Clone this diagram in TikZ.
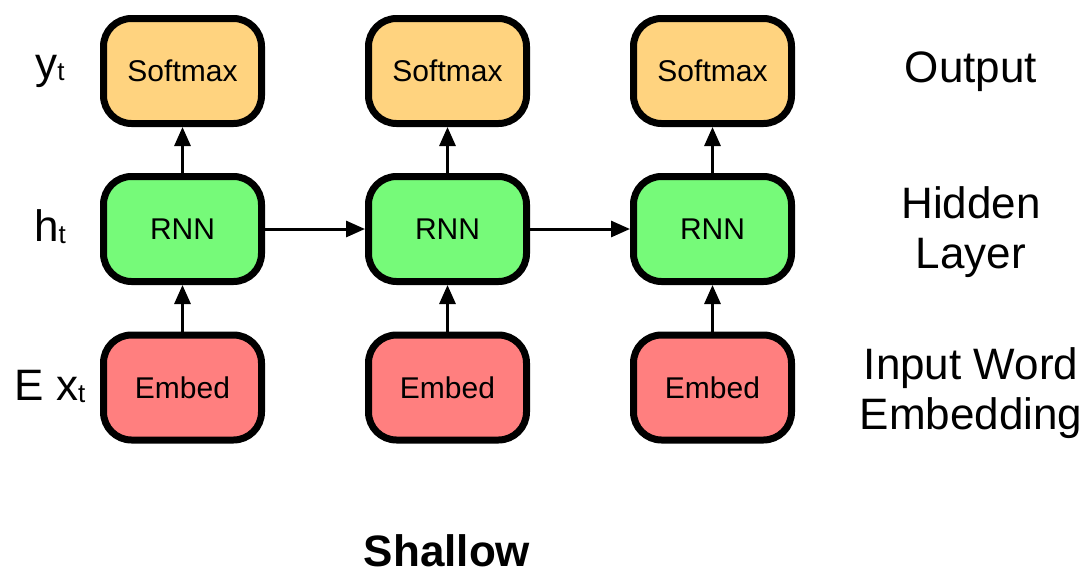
\documentclass[tikz,border=0pt]{standalone}
\usepackage{fontspec}
\setmainfont{Liberation Sans}
\usetikzlibrary{arrows.meta}
\definecolor{softc}{HTML}{FFD37F}
\definecolor{rnnc}{HTML}{76FA79}
\definecolor{embc}{HTML}{FF7F7F}
\newcommand{\subt}{{\fontsize{26}{26}\selectfont\raisebox{-2pt}{t}}}
\begin{document}
\begin{tikzpicture}[x=1pt,y=-1pt,
  box/.style={draw=black,line width=7pt,rounded corners=28pt,minimum width=158pt,minimum height=105pt,inner sep=0pt,font=\fontsize{30}{30}\selectfont},
  softbox/.style={box,fill=softc},
  rnnbox/.style={box,fill=rnnc},
  embbox/.style={box,fill=embc},
  conn/.style={line width=3pt,-{Triangle[length=19pt,width=16pt]}},
  side/.style={font=\fontsize{44}{44}\selectfont,inner sep=0pt,align=center},
  rlab/.style={font=\fontsize{44}{50}\selectfont,inner sep=0pt,align=center}]
\useasboundingbox (0,0) rectangle (1088,574);
\foreach \i/\x in {1/182.5,2/447.5,3/712.5}{
  \node[softbox] (s\i) at (\x,71) {Softmax};
  \node[rnnbox] (r\i) at (\x,229) {RNN};
  \node[embbox] (e\i) at (\x,387.5) {Embed};
  \draw[conn] (e\i) -- (r\i);
  \draw[conn] (r\i) -- (s\i);
}
\draw[conn] (r1) -- (r2);
\draw[conn] (r2) -- (r3);
\node[side] (ly) at (50,71) {y\subt};
\node[side] (lh) at (50,227) {h\subt};
\node[side] (lx) at (50,386) {E x\subt};
\node[rlab] (ro) at (971,72) {Output};
\node[rlab] (rh) at (971,232) {Hidden\\Layer};
\node[rlab] (ri) at (971,393) {Input Word\\Embedding};
\node[font=\fontsize{44}{44}\selectfont\bfseries,inner sep=0pt] (sh) at (447,551) {Shallow};
\end{tikzpicture}
\end{document}
